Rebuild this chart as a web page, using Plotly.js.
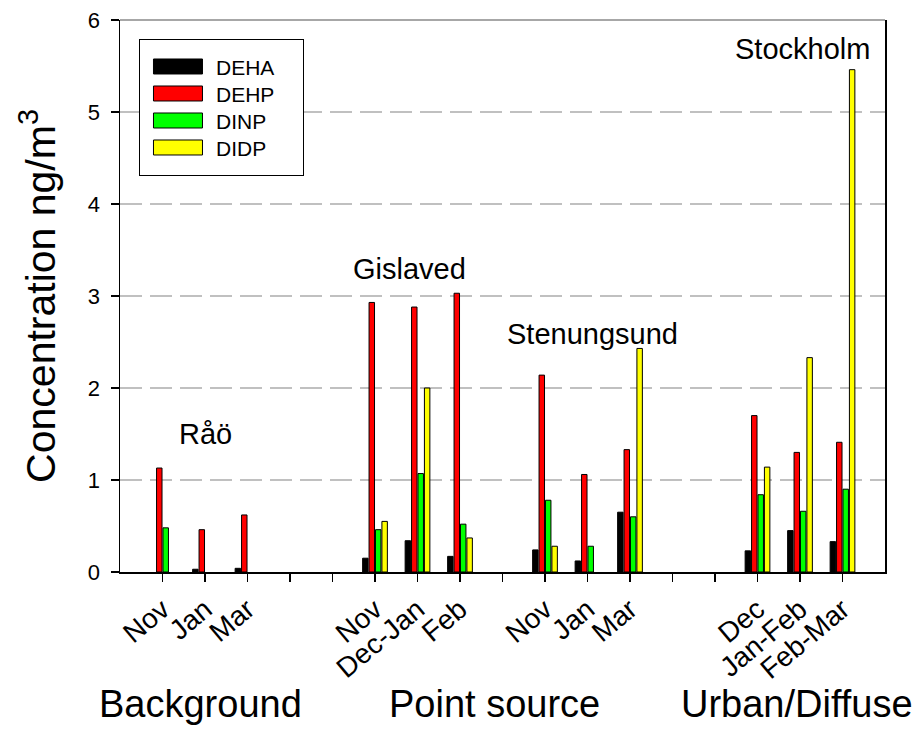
<!DOCTYPE html>
<html>
<head>
<meta charset="utf-8">
<script src="https://cdn.plot.ly/plotly-3.0.1.min.js"></script>
<style>html,body{margin:0;padding:0;background:#fff;}#chart{width:919px;height:738px;}</style>
</head>
<body>
<div id="chart"></div>
<script>
// Slot labels along the x axis ('' = empty spacer slot)
var tickLabels = ['Nov','Jan','Mar','','','Nov','Dec-Jan','Feb','','Nov','Jan','Mar','','','Dec','Jan-Feb','Feb-Mar'];

// Concentrations, ng/m3 (null = not shown)
var DEHA = [null, 0.03, 0.04, null, null, 0.15, 0.34, 0.17, null, 0.24, 0.12, 0.65, null, null, 0.23, 0.45, 0.33];
var DEHP = [1.13, 0.46, 0.62, null, null, 2.93, 2.88, 3.03, null, 2.14, 1.06, 1.33, null, null, 1.70, 1.30, 1.41];
var DINP = [0.48, null, null, null, null, 0.46, 1.07, 0.52, null, 0.78, 0.28, 0.60, null, null, 0.84, 0.66, 0.90];
var DIDP = [null, null, null, null, null, 0.55, 2.00, 0.37, null, 0.28, null, 2.43, null, null, 1.14, 2.33, 5.46];

var seriesNames = ['DEHA','DEHP','DINP','DIDP'];
var seriesColors = ['#000000','#ff0000','#00ff00','#ffff00'];

var siteNames = ['Råö','Gislaved','Stenungsund','Stockholm'];
var groupNames = ['Background','Point source','Urban/Diffuse'];

var xs = tickLabels.map(function(_, i){ return i + 1; });
var labeledX = xs.filter(function(_, i){ return tickLabels[i] !== ''; });
var labeledText = tickLabels.filter(function(t){ return t !== ''; });
var FONT = 'Liberation Sans, Arial, Helvetica, sans-serif';

var data = [DEHA, DEHP, DINP, DIDP].map(function(vals, k){
  return {
    type: 'bar', name: seriesNames[k], x: xs, y: vals,
    marker: {color: seriesColors[k], line: {color: '#000000', width: 1}},
    hoverinfo: 'x+y+name'
  };
});

// site label placement (x slot, y value at text middle)
var siteX = [2.0, 6.82, 11.12, 16.05];
var siteY = [1.50, 3.29, 2.59, 5.69];
var annotations = siteNames.map(function(s, i){
  return {text: s, x: siteX[i], y: siteY[i], xref: 'x', yref: 'y', showarrow: false,
          xanchor: 'center', yanchor: 'middle', font: {family: FONT, size: 29, color: '#000'}};
});
var groupX = [0.1046, 0.490, 0.885];
groupNames.forEach(function(g, i){
  annotations.push({text: g, x: groupX[i], y: -0.240, xref: 'paper', yref: 'paper', showarrow: false,
    xanchor: 'center', yanchor: 'middle', font: {family: FONT, size: 38, color: '#000'}});
});

var layout = {
  width: 919, height: 738,
  margin: {l: 120, r: 34, t: 20, b: 166},
  paper_bgcolor: '#ffffff', plot_bgcolor: '#ffffff',
  font: {family: FONT, color: '#000'},
  barmode: 'group', bargap: 0.395, bargroupgap: 0.15,
  showlegend: true,
  legend: {x: 0.0248, y: 0.9656, xanchor: 'left', yanchor: 'top',
           bordercolor: '#000', borderwidth: 1, bgcolor: '#fff',
           font: {family: FONT, size: 21, color: '#000'}, itemwidth: 66,
           traceorder: 'normal'},
  xaxis: {range: [0, 18], tickmode: 'array', tickvals: labeledX, ticktext: labeledText,
          tickangle: -40, tickfont: {family: FONT, size: 28, color: '#000'},
          ticks: 'outside', ticklen: 8, tickwidth: 1.5, tickcolor: '#000',
          minor: {tickmode: 'array', tickvals: xs, ticks: 'outside', ticklen: 8, tickwidth: 1.5, tickcolor: '#000', showgrid: false},
          showline: true, linecolor: '#000', linewidth: 2, mirror: false,
          showgrid: false, zeroline: false, fixedrange: true},
  yaxis: {range: [0, 6], tickvals: [0,1,2,3,4,5,6], ticks: 'outside', ticklen: 8, tickwidth: 1.5,
          tickcolor: '#000', tickfont: {family: FONT, size: 22, color: '#000'}, ticklabelstandoff: 6,
          showline: true, linecolor: '#000', linewidth: 1.5, mirror: true,
          showgrid: true, gridcolor: '#c0c0c0', gridwidth: 1.5, griddash: '22px,8px',
          zeroline: false, fixedrange: true,
          title: {text: 'Concentration ng/m<sup>3</sup>', font: {family: FONT, size: 41, color: '#000'}, standoff: 19}},
  shapes: [{type: 'line', xref: 'paper', yref: 'paper', x0: 0, x1: 1, y0: 1, y1: 1,
            line: {color: '#8a8a8a', width: 1.5}}],
  annotations: annotations
};

Plotly.newPlot('chart', data, layout, {displayModeBar: false, staticPlot: true}).then(function(){
  var gd = document.getElementById('chart');
  gd.querySelectorAll('.legend .legendpoints path').forEach(function(p){
    p.setAttribute('d', 'M24.5,7.5H-24.5V-7.5H24.5Z');
  });
  var BOX_W = 164, BOX_H = 136, FIRST = 27.5, STEP = 27;
  var bg = gd.querySelector('.legend .bg');
  if (bg) {
    bg.setAttribute('height', BOX_H);
    bg.setAttribute('width', BOX_W);
  }
  gd.querySelectorAll('.legend .traces').forEach(function(t, i){
    var tr = t.getAttribute('transform') || '';
    var m = tr.match(/translate\(([-\d.]+)[ ,]+([-\d.]+)\)/);
    if (m) t.setAttribute('transform', 'translate(' + m[1] + ',' + (FIRST + STEP * i) + ')');
  });
  gd.querySelectorAll('.legend clipPath rect, defs [id*="legend"] rect').forEach(function(r){
    r.setAttribute('height', BOX_H);
    r.setAttribute('width', BOX_W);
  });
});
</script>
</body>
</html>
